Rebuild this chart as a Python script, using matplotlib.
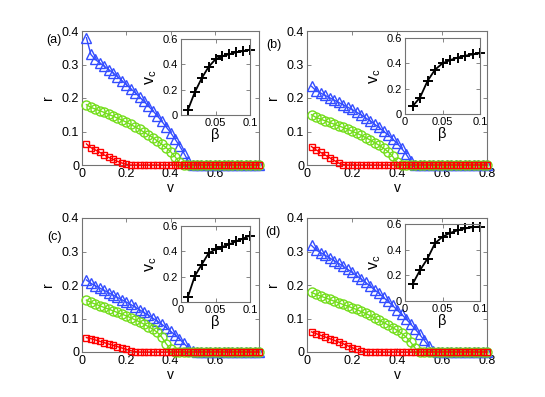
import numpy as np
import matplotlib
matplotlib.use("Agg")
import matplotlib.pyplot as plt

plt.rcParams['font.family'] = ['Liberation Sans', 'DejaVu Sans']
plt.rcParams['mathtext.fontset'] = 'custom'
plt.rcParams['mathtext.rm'] = 'Liberation Sans'

v = np.round(np.arange(1, 41) * 0.02, 2)  # 0.02 .. 0.80

def pad(vals):
    return list(vals) + [0.0] * (40 - len(vals))

blue_a = pad([0.38, 0.33, 0.315, 0.305, 0.295, 0.285, 0.275, 0.264, 0.252, 0.240,
              0.228, 0.216, 0.203, 0.190, 0.176, 0.162, 0.147, 0.131, 0.114, 0.097,
              0.078, 0.058, 0.036, 0.012])
green_a = pad([0.18, 0.172, 0.167, 0.162, 0.157, 0.151, 0.146, 0.140, 0.134, 0.128,
               0.121, 0.114, 0.106, 0.098, 0.090, 0.082, 0.072, 0.062, 0.052, 0.040,
               0.025, 0.008])
red_a = pad([0.063, 0.052, 0.045, 0.038, 0.030, 0.023, 0.017, 0.011, 0.006, 0.002])

blue_b = pad([0.235, 0.222, 0.215, 0.208, 0.201, 0.194, 0.187, 0.180, 0.173, 0.166,
              0.158, 0.150, 0.141, 0.132, 0.122, 0.112, 0.101, 0.090, 0.078, 0.065,
              0.050, 0.033, 0.012])
green_b = pad([0.150, 0.142, 0.137, 0.132, 0.127, 0.122, 0.117, 0.112, 0.107, 0.101,
               0.095, 0.089, 0.082, 0.075, 0.067, 0.059, 0.050, 0.040, 0.026, 0.008])
red_b = pad([0.055, 0.045, 0.038, 0.030, 0.022, 0.014, 0.006, 0.001])

blue_c = pad([0.215, 0.205, 0.198, 0.191, 0.184, 0.177, 0.170, 0.163, 0.156, 0.149,
              0.142, 0.134, 0.126, 0.118, 0.110, 0.101, 0.092, 0.083, 0.073, 0.062,
              0.051, 0.039, 0.026, 0.012, 0.002])
green_c = pad([0.155, 0.148, 0.143, 0.138, 0.133, 0.128, 0.123, 0.118, 0.113, 0.108,
               0.102, 0.096, 0.090, 0.083, 0.076, 0.068, 0.059, 0.045, 0.025, 0.008])
red_c = pad([0.043, 0.040, 0.036, 0.032, 0.028, 0.024, 0.020, 0.016, 0.012, 0.008,
             0.004, 0.001])

blue_d = pad([0.318, 0.305, 0.297, 0.289, 0.281, 0.273, 0.265, 0.256, 0.247, 0.238,
              0.228, 0.218, 0.208, 0.197, 0.186, 0.175, 0.163, 0.151, 0.139, 0.126,
              0.113, 0.099, 0.084, 0.069, 0.053, 0.036, 0.018, 0.003])
green_d = pad([0.178, 0.172, 0.167, 0.162, 0.157, 0.152, 0.147, 0.142, 0.137, 0.132,
               0.127, 0.121, 0.115, 0.109, 0.102, 0.095, 0.088, 0.081, 0.073, 0.065,
               0.056, 0.045, 0.030, 0.012])
red_d = pad([0.060, 0.055, 0.050, 0.045, 0.040, 0.035, 0.030, 0.025, 0.019, 0.013,
             0.008, 0.003])

beta = [0.01, 0.02, 0.03, 0.04, 0.05, 0.06, 0.07, 0.08, 0.09, 0.10]
vc_a = [0.04, 0.18, 0.29, 0.38, 0.44, 0.465, 0.48, 0.495, 0.505, 0.515]
vc_b = [0.06, 0.13, 0.26, 0.35, 0.40, 0.425, 0.445, 0.46, 0.47, 0.48]
vc_c = [0.04, 0.205, 0.295, 0.385, 0.415, 0.435, 0.455, 0.48, 0.50, 0.525]
vc_d = [0.13, 0.24, 0.33, 0.45, 0.50, 0.53, 0.55, 0.565, 0.575, 0.58]

panel_labels = ['(a)', '(b)', '(c)', '(d)']
main_xticks_left = [0, 0.2, 0.4, 0.6]
main_xticks_right = [0, 0.2, 0.4, 0.6, 0.8]
main_yticks = [0, 0.1, 0.2, 0.3, 0.4]
inset_yticks = [0, 0.2, 0.4, 0.6]

W, H = 545, 397
fig = plt.figure(figsize=(W / 100, H / 100), dpi=100)

BLUE = (0.2, 0.3, 1.0)
GREEN = (0.45, 0.87, 0.1)
RED = (1.0, 0.0, 0.0)
GRAY = (0.45, 0.45, 0.45)

def px_axes(x0, x1, y0, y1):
    return fig.add_axes([x0 / W, 1 - y1 / H, (x1 - x0) / W, (y1 - y0) / H])

def style(ax, fs):
    for s in ax.spines.values():
        s.set_color(GRAY)
        s.set_linewidth(0.8)
    ax.tick_params(direction='in', length=3, width=0.6, color=GRAY,
                   top=True, right=True, labelsize=fs, pad=2)

panels = [
    dict(box=(82, 259, 31, 165), blue=blue_a, green=green_a, red=red_a, vc=vc_a,
         xt=main_xticks_left, inset=(181, 250, 39, 115), lab=(54, 40), ixt0=False),
    dict(box=(307, 487, 31, 165), blue=blue_b, green=green_b, red=red_b, vc=vc_b,
         xt=main_xticks_right, inset=(405, 480, 38, 114), lab=(274, 45), ixt0=True),
    dict(box=(82, 259, 218, 352), blue=blue_c, green=green_c, red=red_c, vc=vc_c,
         xt=main_xticks_left, inset=(181, 250, 226, 302), lab=(54, 237), ixt0=True),
    dict(box=(307, 487, 218, 352), blue=blue_d, green=green_d, red=red_d, vc=vc_d,
         xt=main_xticks_right, inset=(405, 480, 224, 301), lab=(273, 232), ixt0=True),
]

for i, p in enumerate(panels):
    x0, x1, y0, y1 = p['box']
    ax = px_axes(x0, x1, y0, y1)
    ax.plot(v, p['blue'], '-', color=BLUE, lw=1.0, marker='^', ms=7.5,
            mfc='none', mec=BLUE, mew=1.0, clip_on=False, zorder=3)
    ax.plot(v, p['green'], '-', color=GREEN, lw=1.0, marker='o', ms=6.5,
            mfc='none', mec=GREEN, mew=1.0, clip_on=False, zorder=4)
    ax.plot(v, p['red'], '-', color=RED, lw=1.0, marker='s', ms=4.8,
            mfc='none', mec=RED, mew=1.0, clip_on=False, zorder=5)
    ax.set_xlim(0, 0.8)
    ax.set_ylim(0, 0.4)
    ax.set_xticks(p['xt'])
    ax.set_xticklabels(['0' if t == 0 else f'{t:g}' for t in p['xt']])
    ax.set_yticks(main_yticks)
    ax.set_yticklabels(['0' if t == 0 else f'{t:g}' for t in main_yticks])
    style(ax, 9)
    ax.set_xlabel('v', fontsize=10, labelpad=1)
    ax.set_ylabel('r', fontsize=10, labelpad=5)
    fig.text(p['lab'][0] / W, 1 - p['lab'][1] / H, panel_labels[i],
             ha='center', va='center', fontsize=9)

    ix0, ix1, iy0, iy1 = p['inset']
    ins = px_axes(ix0, ix1, iy0, iy1)
    ins.plot(beta, p['vc'], '-', color='black', lw=1.3, marker='+', ms=7,
             mew=1.4, clip_on=False)
    ins.set_xlim(0, 0.1)
    ins.set_ylim(0, 0.6)
    if p['ixt0']:
        ins.set_xticks([0, 0.05, 0.1])
        ins.set_xticklabels(['0', '0.05', '0.1'])
    else:
        ins.set_xticks([0.05, 0.1])
        ins.set_xticklabels(['0.05', '0.1'])
    ins.set_yticks(inset_yticks)
    ins.set_yticklabels(['0' if t == 0 else f'{t:g}' for t in inset_yticks])
    style(ins, 8)
    ins.set_xlabel('β', fontsize=10.5, labelpad=0)
    ins.set_ylabel(r'v$_{\mathregular{c}}$', fontsize=11.5, labelpad=3)

fig.savefig('out.png', dpi=100)
